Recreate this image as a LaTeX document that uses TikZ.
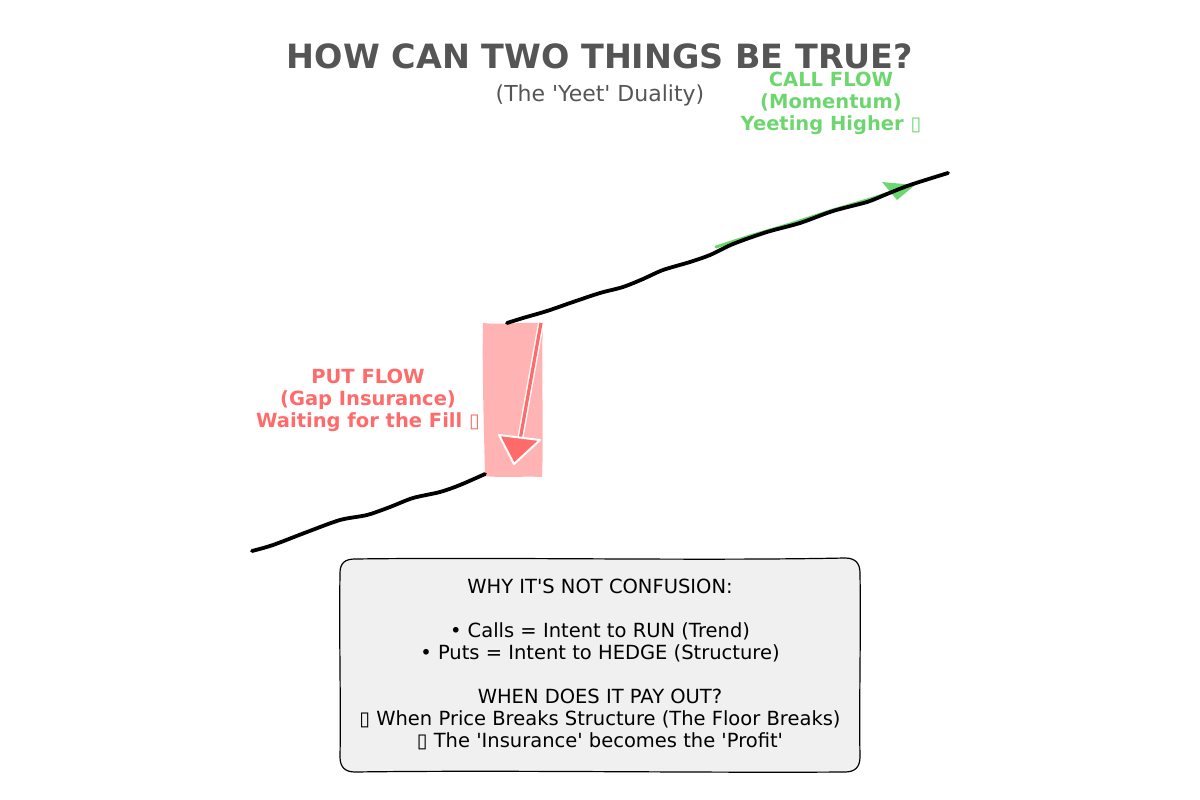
\documentclass[tikz,border=0pt]{standalone}
\usepackage{fontspec}
\setmainfont{DejaVu Sans}
\definecolor{titlegray}{HTML}{555555}
\definecolor{callgreen}{RGB}{110,214,110}
\definecolor{putred}{RGB}{255,107,107}
\definecolor{putfill}{RGB}{255,179,179}
\definecolor{boxfill}{HTML}{F0F0F0}
\newcommand{\sq}{\textquotesingle}
\tikzset{
  price/.style={line width=3.8pt, line cap=round, black},
  titletext/.style={text=titlegray, inner sep=0pt, font=\bfseries\fontsize{33.4}{40}\selectfont},
  subtext/.style={text=titlegray, inner sep=0pt, font=\fontsize{22}{26}\selectfont},
  calllabel/.style={text=callgreen, inner sep=0pt, align=center, font=\bfseries\fontsize{19.5}{22}\selectfont},
  putlabel/.style={text=putred, inner sep=0pt, align=center, font=\bfseries\fontsize{19.5}{22}\selectfont},
  infobox/.style={fill=boxfill, draw=black, line width=1.2pt},
  infotext/.style={align=center, font=\fontsize{19.5}{22}\selectfont},
}
\begin{document}
\begin{tikzpicture}[x=1pt,y=-1pt]
\useasboundingbox (0,0) rectangle (1200,800);
% title
\node[titletext] (title) at (600,56) {HOW CAN TWO THINGS BE TRUE?};
\node[subtext] (sub) at (600,95) {(The \sq Yeet\sq\ Duality)};
% red gap rectangle
\fill[putfill] (483,323) .. controls (500,325) and (525,322) .. (543,323)
  .. controls (541,370) and (544,430) .. (542,477)
  .. controls (525,476) and (500,478) .. (485,476)
  .. controls (484,430) and (482,370) .. (483,323) -- cycle;
% green momentum arrow (under the line)
\draw[callgreen, line width=3pt, line cap=round] plot[smooth] coordinates {(716,247) (750,236) (790,224) (830,211) (870,199) (898,190)};
\fill[callgreen] (882,182) -- (915,185) -- (897,200) -- cycle;
% price line
\draw[price] plot[smooth] coordinates {(252,551) (273,545) (307,532) (340,520) (367,515) (390,507) (413,498) (440,492) (460,485) (485,474)};
\draw[price] plot[smooth] coordinates {(507,323) (523,318) (547,311) (573,302) (600,293) (623,287) (643,279) (663,270) (690,262) (710,255) (733,244) (767,232) (800,223) (833,211) (867,202) (887,194) (910,185) (948,173)};
% red put arrow
\coordinate (pa) at (541,323);
\coordinate (pb) at (520,440);
\draw[white, line width=6pt] (pa) -- (pb);
\draw[putred, line width=3.2pt] (pa) -- (pb);
\filldraw[fill=putred, draw=white, line width=2pt, line join=round] (499,435) -- (540,440) -- (514,464) -- cycle;
% labels
\node[calllabel] (call) at (831,103) {CALL FLOW\\(Momentum)\\Yeeting Higher ▯};
\node[putlabel] (put) at (368,400) {PUT FLOW\\(Gap Insurance)\\Waiting for the Fill ▯};
% info box
\path[infobox] (355,559) .. controls (500,557) and (700,561) .. (845,558)
  .. controls (855,558) and (860,563) .. (860,573)
  .. controls (861,640) and (859,700) .. (860,757)
  .. controls (860,767) and (855,772) .. (845,772)
  .. controls (700,773) and (500,770) .. (355,772)
  .. controls (345,772) and (340,767) .. (340,757)
  .. controls (341,700) and (339,640) .. (340,573)
  .. controls (340,563) and (345,559) .. (355,559) -- cycle;
\node[infotext] (info) at (600,664) {WHY IT\sq S NOT CONFUSION:\\[22pt]
• Calls = Intent to RUN (Trend)\\
• Puts = Intent to HEDGE (Structure)\\[22pt]
WHEN DOES IT PAY OUT?\\
▯ When Price Breaks Structure (The Floor Breaks)\\
▯ The \sq Insurance\sq\ becomes the \sq Profit\sq};
\end{tikzpicture}
\end{document}
